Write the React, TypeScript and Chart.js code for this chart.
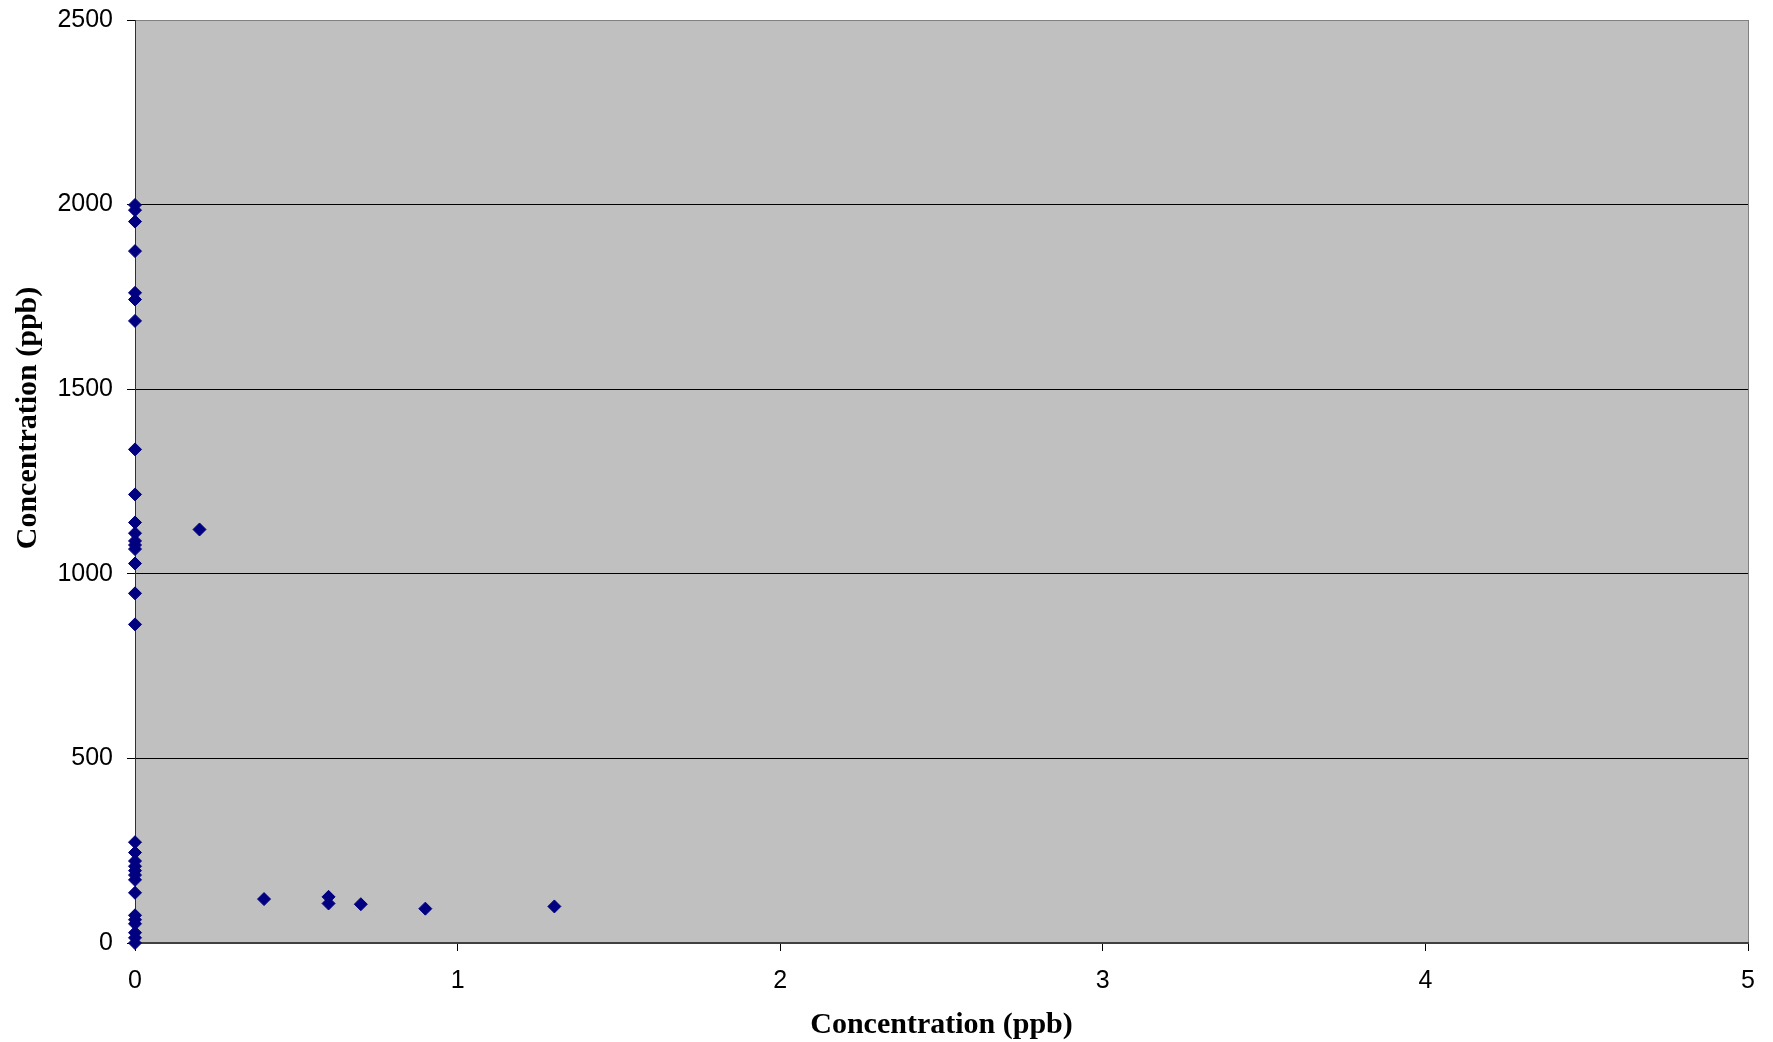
import React, { useEffect, useRef } from "react";
import { Chart, registerables } from "chart.js";

Chart.register(...registerables);

// Sample points (x = concentration, y = concentration)
const xValues = [
  0, 0, 0, 0, 0, 0, 0, 0, 0, 0, 0, 0, 0, 0, 0, 0, 0,
  0, 0, 0, 0, 0, 0, 0, 0, 0, 0, 0, 0, 0, 0,
  0.2, 0.4, 0.6, 0.6, 0.7, 0.9, 1.3,
];
const yValues = [
  1999, 1985, 1954, 1874, 1761, 1743, 1685, 1337, 1215, 1139, 1110, 1089, 1078, 1067, 1028, 947, 863,
  273, 245, 222, 208, 196, 184, 171, 136, 75, 63, 52, 28, 14, 0,
  1120, 119, 125, 107, 105, 93, 99,
];

const xTicks = [0, 1, 2, 3, 4, 5];
const yTicks = [0, 500, 1000, 1500, 2000, 2500];
const xTitle = "Concentration (ppb)";
const yTitle = "Concentration (ppb)";

const W = 1773;
const H = 1042;

export default function App() {
  const ref = useRef<HTMLCanvasElement | null>(null);

  useEffect(() => {
    if (!ref.current) return;
    const points = xValues.map((x, i) => ({ x, y: yValues[i] }));

    const bgPlugin = {
      id: "plotBg",
      beforeDraw(chart: any) {
        const { ctx, chartArea } = chart;
        ctx.save();
        ctx.fillStyle = "#ffffff";
        ctx.fillRect(0, 0, chart.width, chart.height);
        ctx.fillStyle = "#c0c0c0";
        ctx.fillRect(chartArea.left, chartArea.top, chartArea.right - chartArea.left, chartArea.bottom - chartArea.top);
        ctx.restore();
      },
    };

    const titlePlugin = {
      id: "axisTitles",
      afterDraw(chart: any) {
        const { ctx, chartArea } = chart;
        ctx.save();
        ctx.fillStyle = "#000000";
        ctx.font = "bold 30px 'Liberation Serif', 'Times New Roman', serif";
        ctx.textAlign = "center";
        ctx.textBaseline = "middle";
        ctx.fillText(xTitle, (chartArea.left + chartArea.right) / 2, 1025);
        ctx.translate(28, 418);
        ctx.rotate(-Math.PI / 2);
        ctx.fillText(yTitle, 0, 0);
        ctx.restore();
      },
    };

    const tickFont = { family: "'Liberation Sans', Arial, sans-serif", size: 25 };
    const plain = (v: any) => String(v);

    const chart = new Chart(ref.current, {
      type: "scatter",
      data: {
        datasets: [
          {
            label: "Concentration",
            data: points,
            backgroundColor: "#000080",
            borderColor: "#000080",
            borderWidth: 1,
            pointStyle: "rectRot",
            pointRadius: 6.5,
            pointHoverRadius: 6.5,
            clip: false as any,
          },
        ],
      },
      options: {
        animation: false,
        responsive: true,
        maintainAspectRatio: false,
        layout: { padding: { top: 20, right: 25, left: 0, bottom: 0 } },
        plugins: {
          legend: { display: false },
          tooltip: { enabled: false },
        },
        scales: {
          x: {
            type: "linear",
            min: 0,
            max: 5,
            afterBuildTicks: (scale: any) => {
              scale.ticks = xTicks.map((v) => ({ value: v }));
            },
            afterFit: (scale: any) => {
              scale.height = 99;
              scale.paddingLeft = 0;
              scale.paddingRight = 0;
            },
            ticks: {
              font: tickFont,
              color: "#000000",
              padding: 15,
              maxRotation: 0,
              autoSkip: false,
              callback: plain,
            },
            grid: {
              drawOnChartArea: true,
              color: (c: any) => (c.tick && c.tick.value === 5 ? "#808080" : "rgba(0,0,0,0)"),
              lineWidth: 1,
              drawTicks: true,
              tickLength: 8,
              tickColor: "#000000",
            },
            border: { display: true, color: "#404040", width: 2 },
          },
          y: {
            type: "linear",
            min: 0,
            max: 2500,
            afterBuildTicks: (scale: any) => {
              scale.ticks = yTicks.map((v) => ({ value: v }));
            },
            afterFit: (scale: any) => {
              scale.width = 135;
              scale.paddingTop = 0;
              scale.paddingBottom = 0;
            },
            ticks: {
              font: tickFont,
              color: "#000000",
              padding: 14,
              autoSkip: false,
              callback: plain,
            },
            grid: {
              color: (c: any) => (c.tick && c.tick.value === 2500 ? "#808080" : "#000000"),
              lineWidth: 1,
              drawTicks: true,
              tickLength: 8,
              tickColor: "#000000",
            },
            border: { display: true, color: "#303030", width: 1 },
          },
        },
      },
      plugins: [bgPlugin, titlePlugin],
    });

    return () => chart.destroy();
  }, []);

  return (
    <div style={{ position: "fixed", left: 0, top: 0, width: W, height: H, background: "#fff" }}>
      <canvas ref={ref} />
    </div>
  );
}
